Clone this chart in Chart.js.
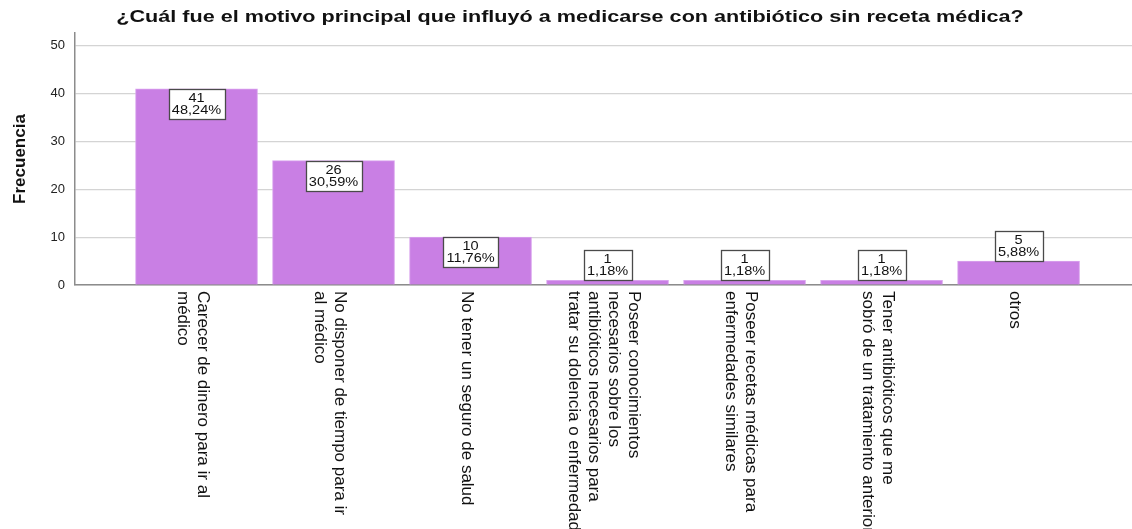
<!DOCTYPE html>
<html>
<head>
<meta charset="utf-8">
<script src="https://cdn.jsdelivr.net/npm/chart.js@4.4.1/dist/chart.umd.min.js"></script>
<style>
  html, body { margin: 0; padding: 0; background: #ffffff; }
  #wrap { width: 1132px; height: 529px; position: relative; }
</style>
</head>
<body>
<div id="wrap"><canvas id="c" width="1132" height="529"></canvas></div>
<script>
// ---- Data ----
const chartTitle = '¿Cuál fue el motivo principal que influyó a medicarse con antibiótico sin receta médica?';
const yAxisTitle = 'Frecuencia';
const categories = [
  ['Carecer de dinero para ir al', 'médico'],
  ['No disponer de tiempo para ir', 'al médico'],
  ['No tener un seguro de salud'],
  ['Poseer conocimientos', 'necesarios sobre los', 'antibióticos necesarios para', 'tratar su dolencia o enfermedad'],
  ['Poseer recetas médicas para', 'enfermedades similares'],
  ['Tener antibióticos que me', 'sobró de un tratamiento anterior'],
  ['otros']
];
const counts = [41, 26, 10, 1, 1, 1, 5];
const percents = ['48,24%', '30,59%', '11,76%', '1,18%', '1,18%', '1,18%', '5,88%'];
const yTicks = [0, 10, 20, 30, 40, 50];

// ---- Plugins ----
const titlePlugin = {
  id: 'stretchedTitle',
  afterDraw(chart) {
    const ctx = chart.ctx;
    ctx.save();
    ctx.font = 'bold 16px "Liberation Sans", Arial, sans-serif';
    ctx.fillStyle = '#111';
    ctx.textAlign = 'center';
    ctx.textBaseline = 'middle';
    ctx.translate(570, 18);
    ctx.scale(1.35, 1);
    ctx.fillText(chartTitle, 0, 0);
    ctx.restore();
  }
};

const barLabelPlugin = {
  id: 'barLabels',
  afterDatasetsDraw(chart) {
    const ctx = chart.ctx;
    const meta = chart.getDatasetMeta(0);
    const sx = 1.12;
    ctx.save();
    ctx.font = '13px "Liberation Sans", Arial, sans-serif';
    meta.data.forEach((el, i) => {
      const lines = [String(counts[i]), percents[i]];
      const w = Math.round(Math.max(...lines.map(t => ctx.measureText(t).width)) * sx + 7);
      const h = 30;
      const x = el.x;
      const top = el.y;
      const base = el.base;
      let boxTop;
      if (base - top >= h + 6) boxTop = top; else boxTop = top - h;
      boxTop = Math.round(boxTop);
      const left = Math.round(x - w / 2);
      ctx.fillStyle = '#ffffff';
      ctx.fillRect(left + 0.5, boxTop + 0.5, w, h);
      ctx.strokeStyle = '#4a4a4a';
      ctx.lineWidth = 1.3;
      ctx.strokeRect(left + 0.5, boxTop + 0.5, w, h);
      ctx.fillStyle = '#111';
      ctx.textAlign = 'center';
      ctx.textBaseline = 'middle';
      lines.forEach((t, k) => {
        ctx.save();
        ctx.translate(x, boxTop + 9 + k * 12.5);
        ctx.scale(sx, 1);
        ctx.fillText(t, 0, 0);
        ctx.restore();
      });
    });
    ctx.restore();
  }
};

const xLabelPlugin = {
  id: 'xLabels',
  afterDraw(chart) {
    const ctx = chart.ctx;
    const xs = chart.scales.x;
    const y0 = chart.chartArea.bottom + 6;
    const lh = 20;
    ctx.save();
    ctx.font = '17px "Liberation Sans", Arial, sans-serif';
    ctx.fillStyle = '#111';
    ctx.textAlign = 'left';
    ctx.textBaseline = 'middle';
    categories.forEach((lines, i) => {
      const x = xs.getPixelForValue(i) - 4;
      ctx.save();
      ctx.translate(x, y0);
      ctx.rotate(Math.PI / 2);
      lines.forEach((t, k) => {
        const off = (k - (lines.length - 1) / 2) * lh;
        ctx.fillText(t, 0, off);
      });
      ctx.restore();
    });
    ctx.restore();
  }
};

const ctx = document.getElementById('c').getContext('2d');
new Chart(ctx, {
  type: 'bar',
  data: {
    datasets: [{
      data: counts.map((v, i) => ({ x: i, y: v })),
      backgroundColor: '#c97fe4',
      borderColor: '#d9a3ee',
      borderWidth: 1,
      borderSkipped: 'bottom',
      barThickness: 122
    }]
  },
  plugins: [barLabelPlugin, xLabelPlugin, titlePlugin],
  options: {
    responsive: false,
    animation: false,
    devicePixelRatio: 1,
    layout: { padding: { left: 0, right: 0, top: 33, bottom: 0 } },
    plugins: {
      legend: { display: false },
      tooltip: { enabled: false },
      title: { display: false }
    },
    scales: {
      x: {
        type: 'linear',
        offset: false,
        min: -0.887,
        max: 6.828,
        afterBuildTicks(s) { s.ticks = categories.map((_, i) => ({ value: i })); },
        afterFit(s) { s.height = 244; },
        ticks: { display: false },
        grid: { display: true, color: 'transparent', drawTicks: false, offset: false },
        border: { display: true, color: '#8c8c8c', width: 1.5 }
      },
      y: {
        min: 0,
        max: 52.7,
        afterBuildTicks(s) { s.ticks = yTicks.map(v => ({ value: v })); },
        afterFit(s) { s.width = 75; },
        ticks: {
          color: '#222',
          padding: 10,
          font: { family: '"Liberation Sans", Arial, sans-serif', size: 13 }
        },
        grid: { color: '#d4d4d4', lineWidth: 1.2, drawTicks: false },
        border: { display: true, color: '#8c8c8c', width: 1.5 },
        title: {
          display: true,
          text: yAxisTitle,
          color: '#111',
          font: { family: '"Liberation Sans", Arial, sans-serif', size: 17, weight: 'bold' },
          padding: { top: 10, bottom: 0 }
        }
      }
    }
  }
});
</script>
</body>
</html>
